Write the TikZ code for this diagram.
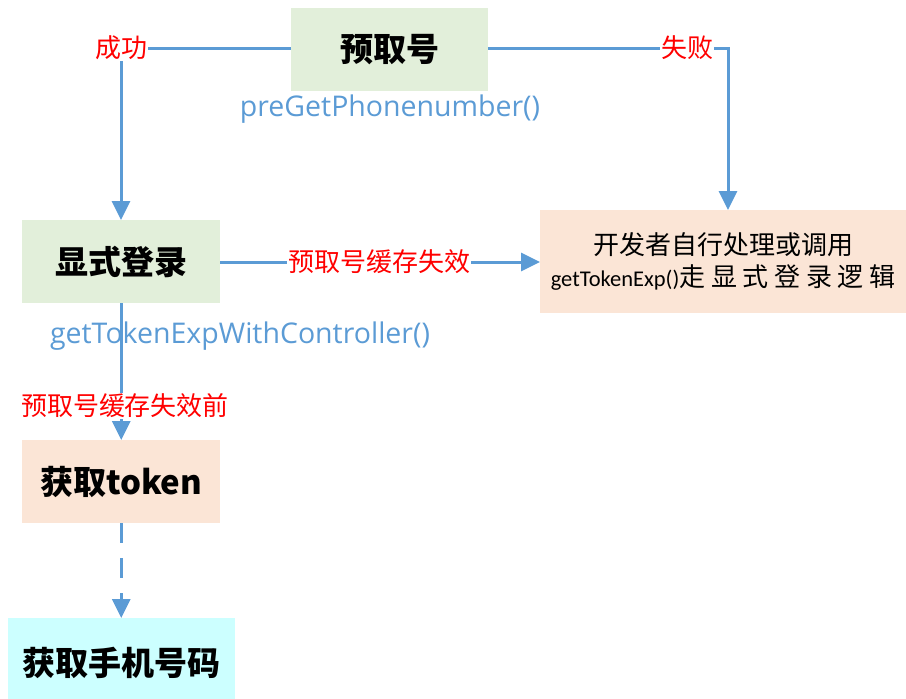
\documentclass[tikz,border=0pt]{standalone}
\usepackage{fontspec}
\setmainfont{Noto Sans CJK SC}
\newfontfamily\apifont{Open Sans}
\newfontfamily\codefont{Carlito}
\newfontfamily\cjkspaced[LetterSpace=22]{Noto Sans CJK SC}
\usetikzlibrary{arrows.meta}
\definecolor{lineblue}{HTML}{5B9BD5}
\definecolor{txtblue}{HTML}{5B9BD5}
\definecolor{boxgreen}{HTML}{E2EFDA}
\definecolor{boxpeach}{HTML}{FBE5D6}
\definecolor{boxcyan}{HTML}{CCFFFF}
\definecolor{lblred}{HTML}{FF0000}
\tikzset{
  box/.style={inner sep=0pt, anchor=north west, font=\fontsize{33}{36}\selectfont\bfseries},
  conn/.style={draw=lineblue, line width=3pt},
  tip/.style={-{Triangle[width=18pt,length=19pt]}},
  lbl/.style={text=lblred, font=\fontsize{26}{28}\selectfont, inner sep=1pt},
  api/.style={text=txtblue, font=\apifont\fontsize{28.5}{32}\selectfont, inner sep=0pt},
}
\begin{document}
\begin{tikzpicture}[x=1pt,y=-1pt]
\useasboundingbox (0,0) rectangle (906,699);
% boxes
\node[box, fill=boxgreen, minimum width=197pt, minimum height=83pt] (pre) at (291,8) {预取号};
\node[box, fill=boxgreen, minimum width=198pt, minimum height=83pt] (exp) at (22,220) {显式登录};
\node[box, fill=boxpeach, minimum width=366pt, minimum height=103pt, font=\fontsize{26}{32}\selectfont, align=center] (dev) at (540,210) {开发者自行处理或调用\\{\codefont\fontsize{22.5}{32}\selectfont getTokenExp()}{\cjkspaced 走显式登录逻辑}};
\node[box, fill=boxpeach, minimum width=198pt, minimum height=83pt] (tok) at (22,440) {获取token};
\node[box, fill=boxcyan, minimum width=227pt, minimum height=90pt] (phone) at (8,618) {获取手机号码};
% api texts
\node[api] (preapi) at (390,109) {preGetPhonenumber()};
\node[api] (expapi) at (240,336) {getTokenExpWithController()};
% labels
\node[lbl] (succ) at (121,48) {成功};
\node[lbl] (fail) at (687,48) {失败};
\node[lbl] (inval) at (379,262) {预取号缓存失效};
\node[lbl] (before) at (125,406) {预取号缓存失效前};
\coordinate (failc) at (728,48);
% connectors
\draw[conn] (pre.west |- succ.east) -- (succ.east);
\draw[conn, tip] (succ.south) -- (succ.south |- exp.north);
\draw[conn] (pre.east |- fail.west) -- (fail.west);
\draw[conn, tip] (fail.east) -- (failc) -- (failc |- dev.north);
\draw[conn] (exp.east |- inval.west) -- (inval.west);
\draw[conn, tip] (inval.east) -- (dev.west |- inval.east);
\draw[conn] (exp.south) -- (exp.south |- before.north);
\draw[conn, tip] (exp.south |- before.south) -- (tok.north);
\draw[conn, tip, dash pattern=on 20pt off 15pt] (tok.south) -- (tok.south |- phone.north);
\end{tikzpicture}
\end{document}
